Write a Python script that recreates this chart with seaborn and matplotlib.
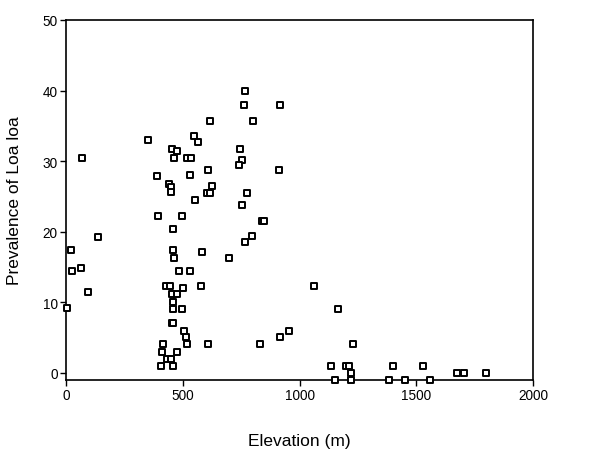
import matplotlib
matplotlib.use("Agg")
import matplotlib.pyplot as plt
import seaborn as sns
import pandas as pd

elevation = [67, 350, 389, 443, 448, 448, 454, 476, 464, 517, 534, 550, 566, 533,
             610, 626, 604, 616, 617, 554, 396, 496, 457, 136, 767, 764, 747, 753,
             743, 777, 753, 918, 801, 913, 840, 846, 796, 21, 24, 66, 94, 6, 457,
             464, 583, 699, 767, 483, 533, 428, 446, 500, 579, 454, 476, 457, 457,
             496, 452, 460, 504, 513, 517, 610, 417, 411, 474, 434, 448, 407, 457,
             1064, 1167, 831, 918, 957, 1133, 1200, 1210, 1153, 1221, 1227, 1221,
             1383, 1453, 1399, 1527, 1559, 1674, 1706, 1797]
prevalence = [30.5, 33.0, 27.9, 26.8, 26.3, 25.6, 31.7, 31.5, 30.5, 30.4, 30.5, 33.5,
              32.7, 28.1, 28.7, 26.5, 25.5, 25.5, 35.7, 24.5, 22.2, 22.3, 20.4, 19.2,
              39.9, 38.0, 31.7, 30.1, 29.4, 25.5, 23.8, 38.0, 35.7, 28.7, 21.5, 21.5,
              19.4, 17.4, 14.4, 14.9, 11.5, 9.2, 17.4, 16.3, 17.2, 16.3, 18.5, 14.4,
              14.4, 12.3, 12.3, 12.0, 12.3, 11.2, 11.2, 10.1, 9.1, 9.1, 7.1, 7.1, 6.0,
              5.1, 4.1, 4.1, 4.1, 3.0, 3.0, 2.0, 2.0, 1.0, 1.0, 12.3, 9.1, 4.1, 5.1,
              6.0, 1.0, 1.0, 1.0, -1.0, 0.0, 4.1, -1.0, -1.0, -1.0, 1.0, 1.0, -1.0,
              0.0, 0.0, 0.0]

x_ticks = [0, 500, 1000, 1500, 2000]
y_ticks = [0, 10, 20, 30, 40, 50]

df = pd.DataFrame({"Elevation (m)": elevation, "Prevalence of Loa loa": prevalence})

sns.set_theme(style="white")
plt.rcParams['font.family'] = ['Liberation Sans', 'DejaVu Sans']

fig = plt.figure(figsize=(6, 4.6), dpi=100)
ax = fig.add_axes([66 / 600, 1 - 381 / 460, (533 - 66) / 600, (381 - 21) / 460])

sns.scatterplot(data=df, x="Elevation (m)", y="Prevalence of Loa loa", ax=ax,
                marker="s", s=19, facecolor="white", edgecolor="black",
                linewidth=1.4, clip_on=False, zorder=3)

ax.set_xlim(0, 2000)
ax.set_ylim(-1.0, 50)
ax.set_xticks(x_ticks)
ax.set_yticks(y_ticks)
ax.set_xticklabels([str(v) for v in x_ticks])
ax.set_yticklabels([str(v) for v in y_ticks])
ax.tick_params(axis="both", which="major", direction="out", length=4, width=1,
               color="black", labelsize=9.8, labelcolor="black", pad=2,
               bottom=True, left=True, top=False, right=False)
for s in ax.spines.values():
    s.set_color("black")
    s.set_linewidth(1.2)
    s.set_visible(True)

ax.set_xlabel("Elevation (m)", fontsize=12.5, color="black", labelpad=22)
ax.set_ylabel("Prevalence of Loa loa", fontsize=12.5, color="black", labelpad=15)
ax.grid(False)

fig.savefig("out.png", dpi=100)
